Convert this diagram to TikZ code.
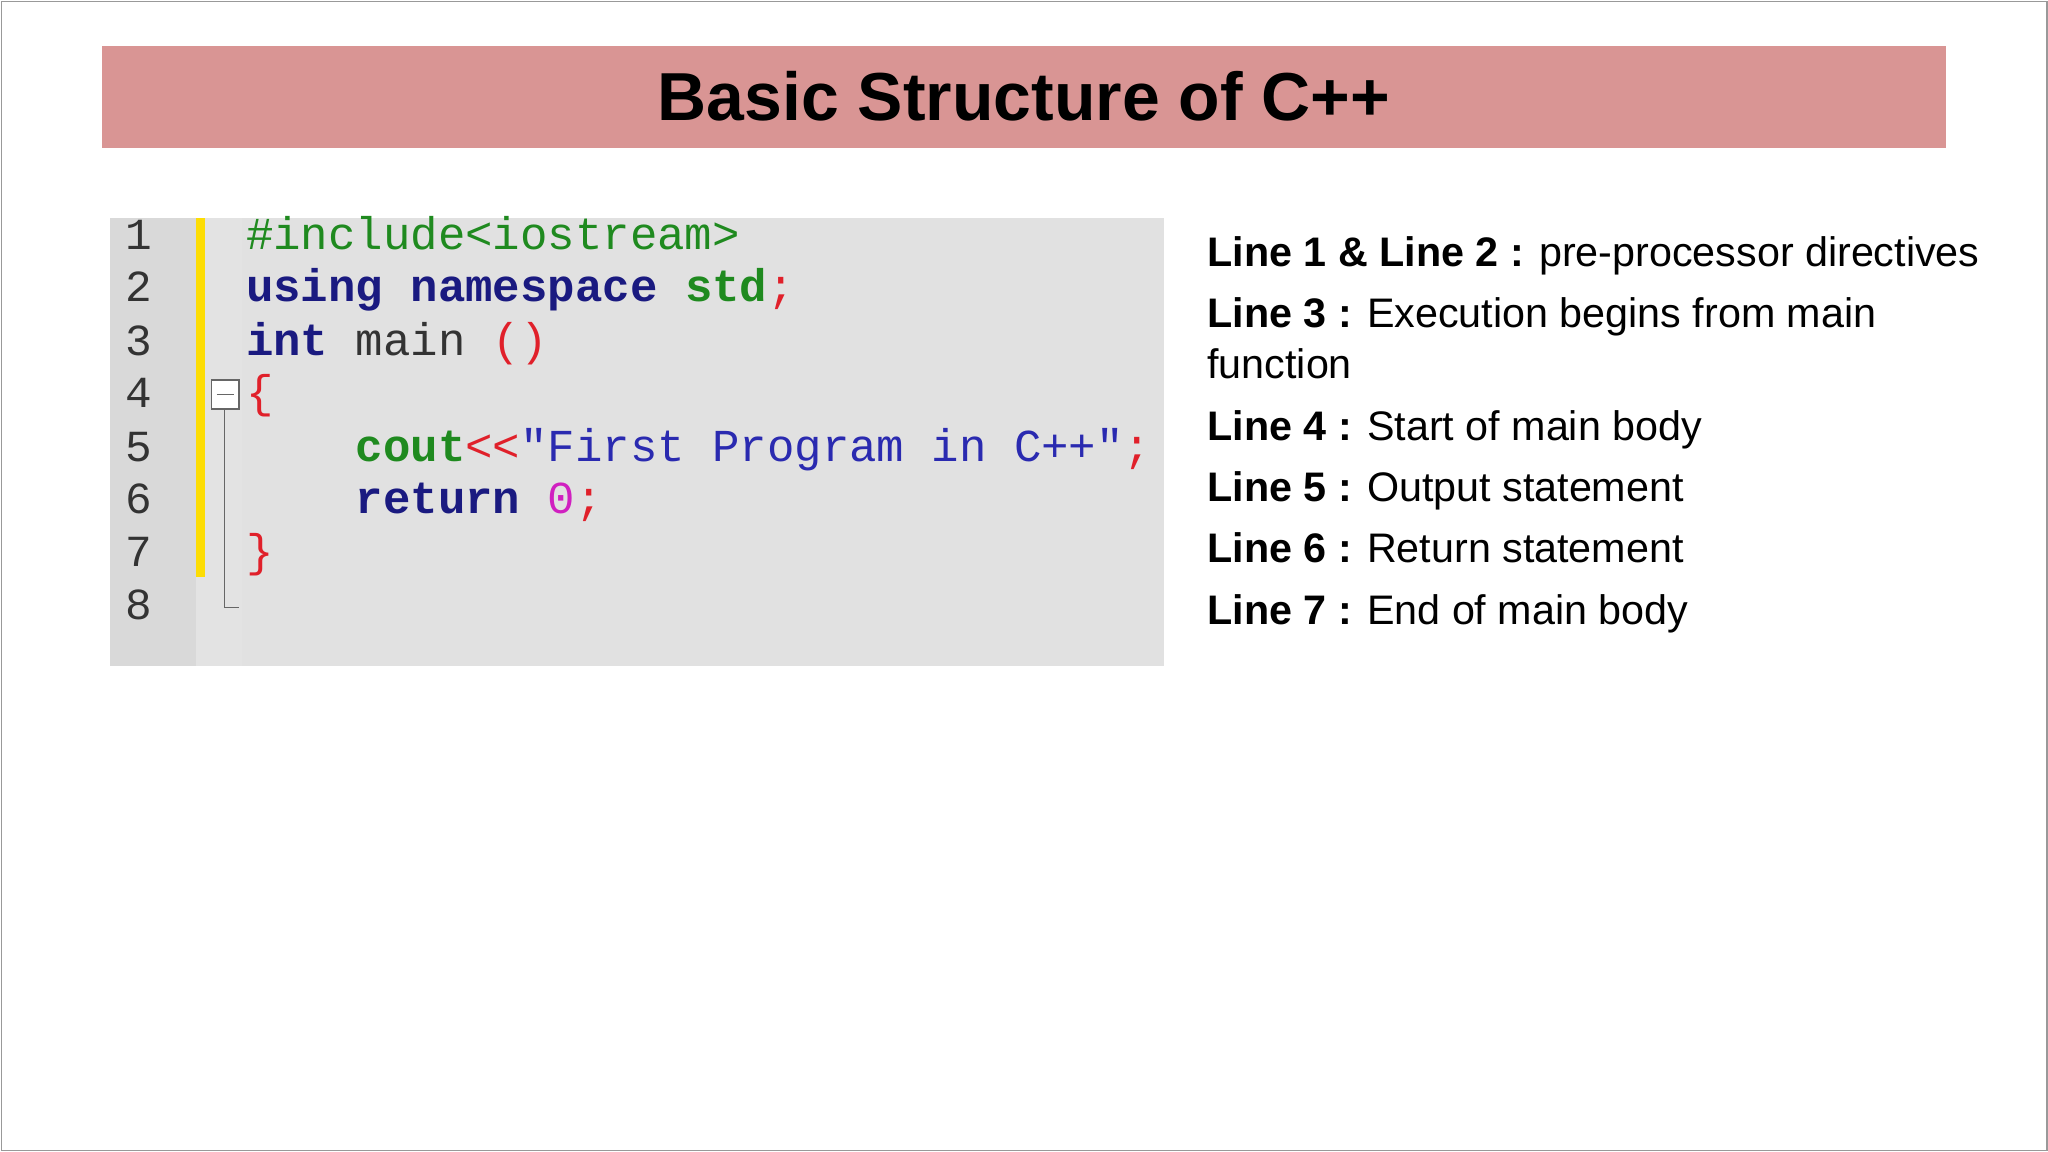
\documentclass[tikz,border=0pt]{standalone}
\usepackage{fontspec}
\setmainfont{Liberation Sans}
\setmonofont{Liberation Mono}
\definecolor{titlebar}{HTML}{D99594}
\definecolor{codebg}{HTML}{E1E1E1}
\definecolor{kw}{HTML}{1A1A80}
\definecolor{gr}{HTML}{1F8A1F}
\definecolor{rd}{HTML}{E0202A}
\definecolor{st}{HTML}{2A2AB0}
\definecolor{mg}{HTML}{D020C0}
\tikzset{
 code/.style={anchor=base west,inner sep=0pt,font=\ttfamily\fontsize{17.5}{20}\selectfont},
 num/.style={anchor=base,inner sep=0pt,font=\ttfamily\fontsize{17}{20}\selectfont,text=black!80},
 desc/.style={anchor=base west,inner sep=0pt,font=\fontsize{15.8}{19}\selectfont}
}
\begin{document}
\begin{tikzpicture}[x=0.5pt,y=-0.5pt]
\useasboundingbox (0,0) rectangle (1568,882);
\fill[white] (0,0) rectangle (1568,882);
\draw[black!40,line width=0.6pt] (1,1) rectangle (1567,881);
\node[fill=titlebar,minimum width=706pt,minimum height=39pt,inner sep=0pt,font=\bfseries\fontsize{26}{30}\selectfont] (title) at (784,74) {Basic Structure of C++};
\fill[codebg] (84,167) rectangle (891,510);
\fill[black!15] (84,167) rectangle (150,510);
\fill[black!11] (150,167) rectangle (185,510);
\fill[yellow!80!orange] (150,167) rectangle (157,442);
\draw[black!60,line width=0.6pt] (172,313) -- (172,465) -- (183,465);
\draw[black!60,fill=white,line width=0.6pt] (162,291) rectangle (183,313);
\draw[black!60,line width=0.6pt] (166,302) -- (179,302);
\foreach \n/\y in {1/191,2/231,3/272,4/312,5/353,6/393,7/434,8/474}
  \node[num] at (106,\y) {\n};
\node[code] (l1) at (188,191) {\textcolor{gr}{\#include<iostream>}};
\node[code] (l2) at (188,231) {\textcolor{kw}{\bfseries using namespace} \textcolor{gr}{\bfseries std}\textcolor{rd}{;}};
\node[code] (l3) at (188,272) {\textcolor{kw}{\bfseries int} \textcolor{black!80}{main} \textcolor{rd}{()}};
\node[code] (l4) at (188,312) {\textcolor{rd}{\{}};
\node[code] (l5) at (272,353) {\textcolor{gr}{\bfseries cout}\textcolor{rd}{<<}\textcolor{st}{"First Program in C++"}\textcolor{rd}{;}};
\node[code] (l6) at (272,393) {\textcolor{kw}{\bfseries return} \textcolor{mg}{0}\textcolor{rd}{;}};
\node[code] (l7) at (188,434) {\textcolor{rd}{\}}};
\node[desc] (d1) at (924,204) {\textbf{Line 1 \& Line 2 :} pre-processor directives};
\node[desc] (d2) at (924,251) {\textbf{Line 3 :} Execution begins from main};
\node[desc] (d2b) at (924,290) {function};
\node[desc] (d3) at (924,337) {\textbf{Line 4 :} Start of main body};
\node[desc] (d4) at (924,384) {\textbf{Line 5 :} Output statement};
\node[desc] (d5) at (924,431) {\textbf{Line 6 :} Return statement};
\node[desc] (d6) at (924,478) {\textbf{Line 7 :} End of main body};
\end{tikzpicture}
\end{document}
